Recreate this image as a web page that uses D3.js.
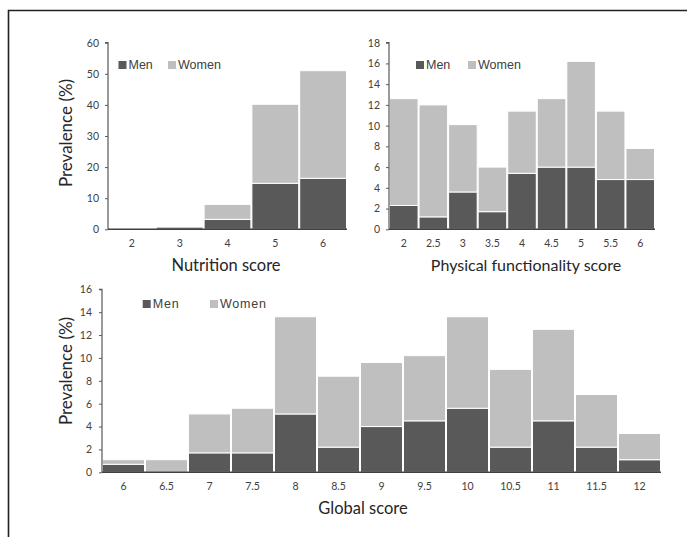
<!DOCTYPE html>
<html>
<head>
<meta charset="utf-8">
<script src="https://cdn.jsdelivr.net/npm/d3@7"></script>
<style>
  html, body { margin: 0; padding: 0; background: #fff; }
  svg { display: block; }
</style>
</head>
<body>
<svg id="chart" width="687" height="537"></svg>
<script>
// ---------- data ----------
const seriesNames = ["Men", "Women"];

const nutritionScores = ["2", "3", "4", "5", "6"];
const nutritionMen    = [0, 0.7, 3.2, 14.8, 16.4];
const nutritionWomen  = [0, 0.0, 4.8, 25.4, 34.6];
const nutritionTicks  = [0, 10, 20, 30, 40, 50, 60];

const physicalScores = ["2", "2.5", "3", "3.5", "4", "4.5", "5", "5.5", "6"];
const physicalMen    = [2.3, 1.2, 3.6, 1.7, 5.4, 6.0, 6.0, 4.8, 4.8];
const physicalWomen  = [10.3, 10.8, 6.5, 4.3, 6.0, 6.6, 10.2, 6.6, 3.0];
const physicalTicks  = [0, 2, 4, 6, 8, 10, 12, 14, 16, 18];

const globalScores = ["6", "6.5", "7", "7.5", "8", "8.5", "9", "9.5", "10", "10.5", "11", "11.5", "12"];
const globalMen    = [0.7, 0, 1.7, 1.7, 5.1, 2.2, 4.0, 4.5, 5.6, 2.2, 4.5, 2.2, 1.1];
const globalWomen  = [0.4, 1.1, 3.4, 3.9, 8.5, 6.2, 5.6, 5.7, 8.0, 6.8, 8.0, 4.6, 2.3];
const globalTicks  = [0, 2, 4, 6, 8, 10, 12, 14, 16];

// ---------- drawing ----------
const svg = d3.select("#chart");
const MEN = "#595959", WOMEN = "#bfbfbf", AXIS = "#595959";
const TITLE_FONT = "Lato, 'Open Sans', sans-serif";
const TICK_FONT = "Lato, 'Open Sans', sans-serif";
const LEG_FONT = "'Liberation Sans', Arial, sans-serif";

// frame
svg.append("path")
  .attr("d", "M8.5,537 L8.5,10.5 L687,10.5")
  .attr("fill", "none").attr("stroke", "#222").attr("stroke-width", 1.6);

function panel(cfg) {
  const g = svg.append("g");
  const x = d3.scaleBand().domain(cfg.cats).range([cfg.x0, cfg.x1]).paddingInner(0).paddingOuter(0);
  const y = d3.scaleLinear().domain([0, cfg.ticks[cfg.ticks.length - 1]]).range([cfg.y0, cfg.y1]);

  const rows = cfg.cats.map((c, i) => ({ cat: c, Men: cfg.men[i], Women: cfg.women[i] }));
  const stacked = d3.stack().keys(seriesNames)(rows);
  const colors = { Men: MEN, Women: WOMEN };

  stacked.forEach(s => {
    g.append("g").selectAll("rect").data(s.filter(d => d[1] > d[0])).join("rect")
      .attr("x", d => x(d.data.cat) + 0.5)
      .attr("width", x.bandwidth() - 1)
      .attr("y", d => y(d[1]))
      .attr("height", d => Math.max(0, y(d[0]) - y(d[1])))
      .attr("fill", colors[s.key])
      .attr("stroke", "#fff").attr("stroke-width", 1);
  });

  // y axis
  const ya = g.append("g").attr("transform", `translate(${cfg.x0},0)`)
    .call(d3.axisLeft(y).tickValues(cfg.ticks).tickSize(3).tickPadding(cfg.tickPad).tickFormat(d3.format("d")));
  ya.select(".domain").attr("stroke", AXIS).attr("stroke-width", 1.2).attr("d", `M-3,${y(cfg.ticks[cfg.ticks.length-1])}H0V${cfg.y0}`);
  ya.selectAll(".tick line").attr("stroke", AXIS);
  ya.selectAll("text").attr("fill", "#404040").style("font-family", TICK_FONT).style("font-size", "10.5px");

  // x axis
  const xa = g.append("g").attr("transform", `translate(0,${cfg.y0})`)
    .call(d3.axisBottom(x).tickSize(0).tickPadding(cfg.xTickPad));
  xa.select(".domain").attr("stroke", "#404040").attr("stroke-width", 1.6).attr("d", `M${cfg.x0},0H${cfg.x1}`);
  xa.selectAll("text").attr("fill", "#404040").style("font-family", TICK_FONT).style("font-size", "10.5px");

  // x title
  g.append("text").attr("x", cfg.xTitleX).attr("y", cfg.xTitleY)
    .attr("text-anchor", "middle").attr("fill", "#262626")
    .style("font-family", TITLE_FONT).style("font-size", cfg.xTitleSize + "px")
    .text(cfg.xTitle);

  if (cfg.yTitle) {
    g.append("text")
      .attr("transform", `translate(${cfg.yTitleX},${cfg.yTitleY}) rotate(-90)`)
      .attr("text-anchor", "middle").attr("fill", "#262626")
      .style("font-family", TITLE_FONT).style("font-size", "17px")
      .text(cfg.yTitle);
  }

  // legend
  const lg = g.append("g");
  cfg.legend.forEach((p, i) => {
    lg.append("rect").attr("x", p).attr("y", cfg.legY).attr("width", 8).attr("height", 8)
      .attr("fill", i === 0 ? MEN : WOMEN);
    lg.append("text").attr("x", p + 10).attr("y", cfg.legY + 8)
      .attr("fill", "#404040").style("font-family", LEG_FONT).style("font-size", "12.5px")
      .style("letter-spacing", cfg.legSpacing || "0px")
      .text(seriesNames[i]);
  });
}

panel({
  cats: nutritionScores, men: nutritionMen, women: nutritionWomen, ticks: nutritionTicks,
  x0: 108, x1: 347, y0: 229.3, y1: 42.7, tickPad: 6, xTickPad: 10,
  xTitle: "Nutrition score", xTitleX: 226, xTitleY: 271, xTitleSize: 16.5,
  yTitle: "Prevalence (%)", yTitleX: 72, yTitleY: 133,
  legend: [118.5, 168], legY: 61
});

panel({
  cats: physicalScores, men: physicalMen, women: physicalWomen, ticks: physicalTicks,
  x0: 389, x1: 655, y0: 229.3, y1: 42.7, tickPad: 6, xTickPad: 10,
  xTitle: "Physical functionality score", xTitleX: 526, xTitleY: 271, xTitleSize: 16,
  yTitle: null,
  legend: [416, 468], legY: 61
});

panel({
  cats: globalScores, men: globalMen, women: globalWomen, ticks: globalTicks,
  x0: 102, x1: 661, y0: 472.3, y1: 289.3, tickPad: 7, xTickPad: 10,
  xTitle: "Global score", xTitleX: 363, xTitleY: 514, xTitleSize: 16.5,
  yTitle: "Prevalence (%)", yTitleX: 72, yTitleY: 371,
  legend: [142.7, 210], legY: 300, legSpacing: "0.8px"
});
</script>
</body>
</html>
